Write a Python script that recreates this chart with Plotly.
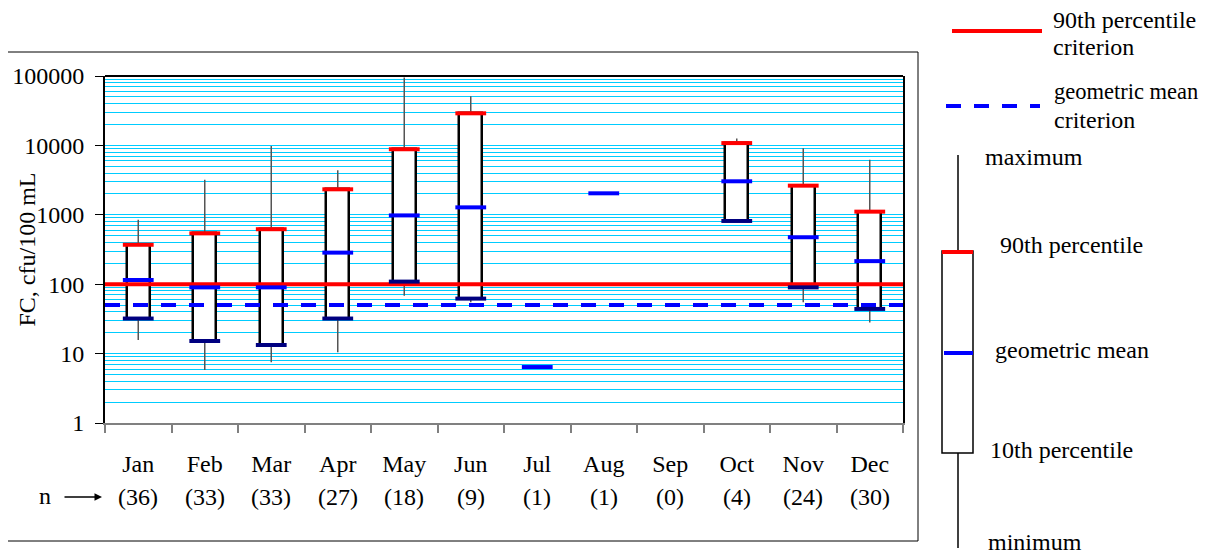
import plotly.graph_objects as go

# ---------------- data ----------------
months = ["Jan", "Feb", "Mar", "Apr", "May", "Jun", "Jul", "Aug", "Sep", "Oct", "Nov", "Dec"]
n_samples = [36, 33, 33, 27, 18, 9, 1, 1, 0, 4, 24, 30]
maximum = [850, 3200, 9800, 4400, 95000, 51000, None, None, None, 12600, 9100, 6200]
p90 = [370, 540, 620, 2330, 8800, 29000, None, None, None, 10800, 2630, 1110]
geomean = [115, 90, 90, 285, 980, 1280, 6.4, 2040, None, 3040, 475, 215]
p10 = [32, 15.2, 13.3, 32, 109, 62, None, None, None, 815, 90, 44]
minimum = [15.7, 5.8, 7.5, 10.5, 68, 55, None, None, None, 800, 55, 28]
crit_90th = 100
crit_geomean = 50
y_ticks = [1, 10, 100, 1000, 10000, 100000]
y_ticktext = ["1", "10", "100", "1000", "10000", "100000"]

# ---------------- layout geometry ----------------
OFF = 8  # page body margin
W, H = 1214 - OFF, 555 - OFF
L, R, T, B = 105, 903, 76, 423  # target plot area in screenshot pixels
FONT = "Liberation Serif"
FS = 24
CYAN = "#00CCFF"


def px(x):
    return (x - L) / (R - L)


def py(y):
    return (B - y) / (B - T)


xpos = list(range(1, len(months) + 1))

fig = go.Figure()

# whiskers (min -> p10 and p90 -> max)
wx, wy = [], []
for i, x in enumerate(xpos):
    if maximum[i] is None:
        continue
    wx += [x, x, None, x, x, None]
    wy += [minimum[i], p10[i], None, p90[i], maximum[i], None]
fig.add_trace(go.Scatter(x=wx, y=wy, mode="lines",
                         line=dict(color="#555555", width=1.5),
                         hoverinfo="skip", showlegend=False))

# boxes p10 -> p90
bx, by, bb = [], [], []
for i, x in enumerate(xpos):
    if p90[i] is None:
        continue
    bx.append(x)
    by.append(p90[i] - p10[i])
    bb.append(p10[i])
fig.add_trace(go.Bar(x=bx, y=by, base=bb, width=0.34,
                     marker=dict(color="white", line=dict(color="black", width=2.5)),
                     showlegend=False, hoverinfo="skip"))

# criterion lines
fig.add_trace(go.Scatter(x=[0.5, 12.5], y=[crit_90th, crit_90th], mode="lines",
                         line=dict(color="#FF0000", width=4), showlegend=False, hoverinfo="skip"))
fig.add_trace(go.Scatter(x=[0.5, 12.5], y=[crit_geomean, crit_geomean], mode="lines",
                         line=dict(color="#0000FF", width=4, dash="15px,13px"),
                         showlegend=False, hoverinfo="skip"))


# p10 caps (navy), p90 caps (red), geomean (blue)
def cap(vals, color):
    xs = [x for x, v in zip(xpos, vals) if v is not None]
    ys = [v for v in vals if v is not None]
    fig.add_trace(go.Scatter(x=xs, y=ys, mode="markers",
                             marker=dict(symbol="line-ew", size=22,
                                         line=dict(color=color, width=4)),
                             showlegend=False, hoverinfo="skip"))


cap(p10, "#000080")
cap(p90, "#FF0000")
cap(geomean, "#0000FF")

minor_grid = [k * 10 ** d for d in range(0, 5) for k in range(2, 10)]

fig.update_layout(
    width=W, height=H,
    margin=dict(l=L - OFF, r=W - (R - OFF), t=T - OFF, b=H - (B - OFF), autoexpand=False),
    paper_bgcolor="white", plot_bgcolor="white",
    font=dict(family=FONT, size=FS, color="black"),
    bargap=0,
    xaxis=dict(range=[0.5, 12.5], tickvals=xpos, ticktext=months, ticks="",
               showgrid=False, zeroline=False, showline=True, linecolor="#808080", linewidth=2,
               ticklabelstandoff=18, automargin=False,
               tickfont=dict(family=FONT, size=FS),
               minor=dict(tickvals=[i + 0.5 for i in range(0, 13)], ticks="outside",
                          ticklen=8, tickcolor="#808080", tickwidth=2, showgrid=False)),
    yaxis=dict(type="log", range=[0, 5], tickvals=y_ticks, ticktext=y_ticktext,
               ticks="outside", ticklen=8, tickcolor="black", tickwidth=1,
               showgrid=True, gridcolor=CYAN, gridwidth=1,
               showline=True, linecolor="black", linewidth=2, mirror=True,
               zeroline=False, ticklabelstandoff=6, automargin=False,
               tickfont=dict(family=FONT, size=FS),
               minor=dict(tickvals=minor_grid, ticks="", showgrid=True,
                          gridcolor=CYAN, gridwidth=1)),
)

shapes = []
# top border of plot area
shapes.append(dict(type="line", xref="paper", yref="paper", x0=0, x1=1, y0=1, y1=1,
                   line=dict(color="black", width=2)))
# outer frame
shapes.append(dict(type="rect", xref="paper", yref="paper", x0=px(5), x1=px(918),
                   y0=py(541), y1=py(52), line=dict(color="black", width=1), layer="below"))
# legend: criteria lines
shapes.append(dict(type="line", xref="paper", yref="paper", x0=px(952), x1=px(1042),
                   y0=py(31), y1=py(31), line=dict(color="#FF0000", width=4)))
shapes.append(dict(type="line", xref="paper", yref="paper", x0=px(946), x1=px(1040),
                   y0=py(106), y1=py(106), line=dict(color="#0000FF", width=4, dash="15px,13px")))
# legend: key box
shapes.append(dict(type="line", xref="paper", yref="paper", x0=px(958), x1=px(958),
                   y0=py(155), y1=py(251), line=dict(color="black", width=1.5)))
shapes.append(dict(type="line", xref="paper", yref="paper", x0=px(958), x1=px(958),
                   y0=py(453), y1=py(548), line=dict(color="black", width=1.5)))
shapes.append(dict(type="rect", xref="paper", yref="paper", x0=px(942), x1=px(973),
                   y0=py(453), y1=py(251), line=dict(color="black", width=1.5),
                   fillcolor="white"))
shapes.append(dict(type="line", xref="paper", yref="paper", x0=px(942), x1=px(973),
                   y0=py(252), y1=py(252), line=dict(color="#FF0000", width=4)))
shapes.append(dict(type="line", xref="paper", yref="paper", x0=px(944), x1=px(973),
                   y0=py(353), y1=py(353), line=dict(color="#0000FF", width=4)))
fig.update_layout(shapes=shapes)

ann = []
for x, n in zip(xpos, n_samples):
    ann.append(dict(x=x, xref="x", y=py(497), yref="paper", text=f"({n})",
                    showarrow=False, xanchor="center", yanchor="middle",
                    font=dict(family=FONT, size=FS)))
ann.append(dict(x=px(45), xref="paper", y=py(496), yref="paper", text="n", showarrow=False,
                xanchor="center", yanchor="middle", font=dict(family=FONT, size=FS)))
ann.append(dict(x=px(102), xref="paper", y=py(497), yref="paper", text="", showarrow=True,
                ax=-39, ay=0, arrowhead=2, arrowsize=1, arrowwidth=1.5, arrowcolor="black"))
# y-axis title
ann.append(dict(x=px(26), xref="paper", y=0.5, yref="paper", text="FC, cfu/100 mL",
                showarrow=False, textangle=-90, xanchor="center", yanchor="middle",
                font=dict(family=FONT, size=FS)))

legend_texts = [
    ("90th percentile", 1051, 20, FS), ("criterion", 1051, 47, FS),
    ("geometric mean", 1052, 91, 22.5), ("criterion", 1052, 120, FS),
    ("maximum", 983, 157, FS), ("90th percentile", 998, 245, FS),
    ("geometric mean", 993, 350, FS), ("10th percentile", 988, 450, FS),
    ("minimum", 986, 542, FS),
]
for t, x, y, fs in legend_texts:
    ann.append(dict(x=px(x), xref="paper", y=py(y), yref="paper", text=t, showarrow=False,
                    xanchor="left", yanchor="middle", font=dict(family=FONT, size=fs)))
fig.update_layout(annotations=ann)

fig.write_html("out.html")
